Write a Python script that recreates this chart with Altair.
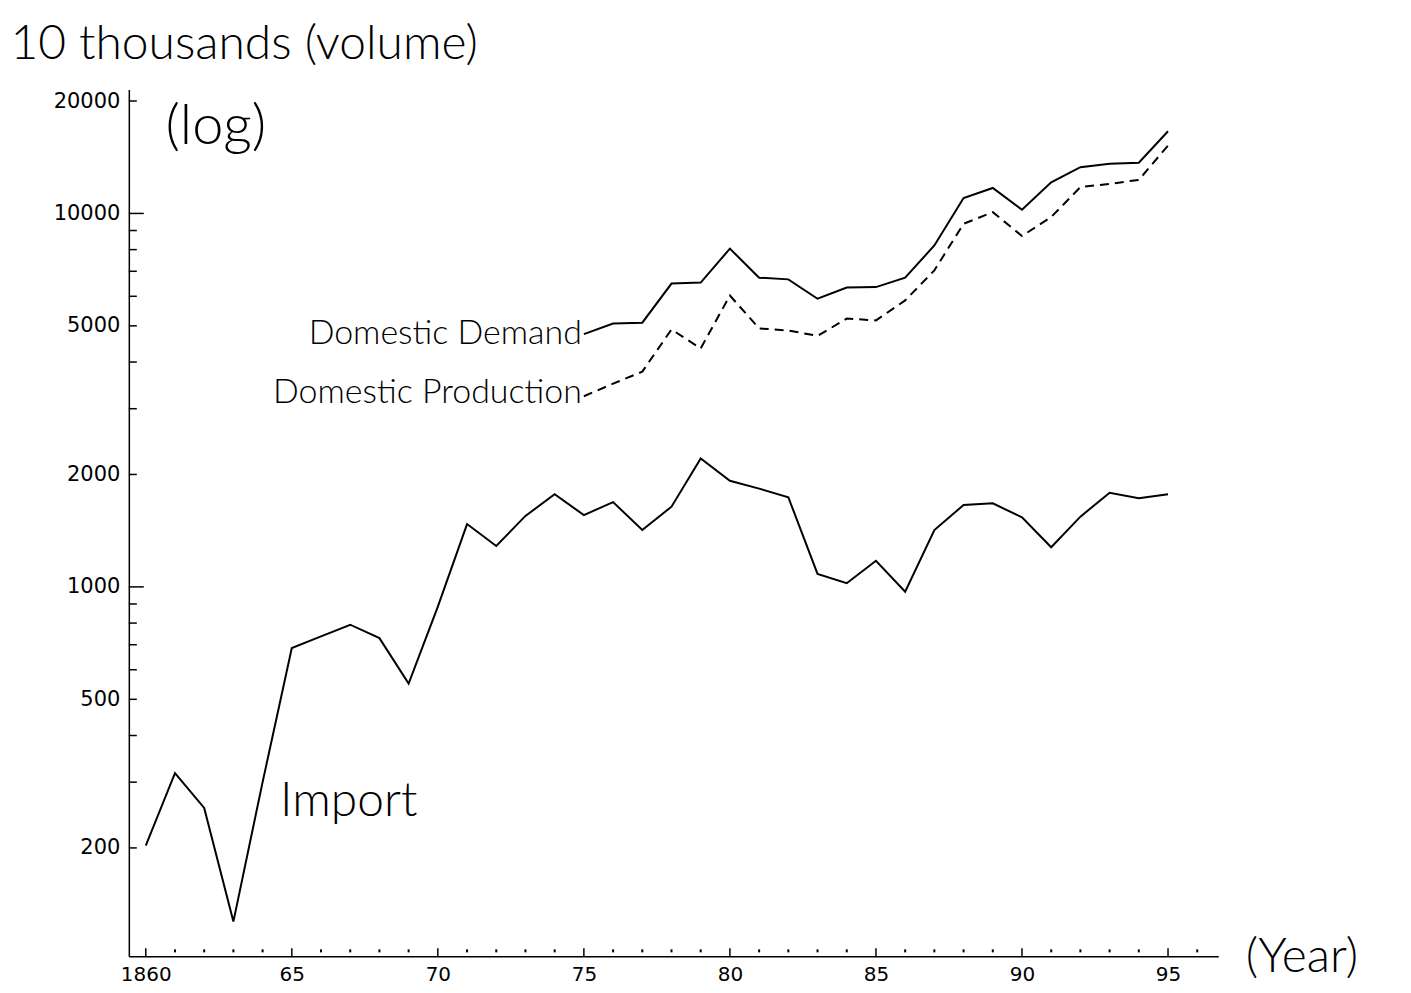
import altair as alt
import pandas as pd

# ---- data ----
import_years = list(range(1860, 1896))
import_vals = [203, 317, 256, 127, 300, 686, 737, 792, 729, 551,
               885, 1473, 1287, 1549, 1770, 1557, 1687, 1420, 1640, 2208,
               1924, 1833, 1738, 1083, 1023, 1175, 971, 1420, 1657, 1674,
               1535, 1277, 1542, 1787, 1727, 1770]

dom_years = list(range(1875, 1896))
demand_vals = [4750, 5070, 5100, 6490, 6530, 8050, 6730, 6660, 5910, 6330,
               6350, 6730, 8210, 11000, 11700, 10230, 12120, 13300, 13580, 13670,
               16600]
production_vals = [3240, 3500, 3770, 4890, 4350, 6030, 4920, 4860, 4700, 5230,
                   5170, 5850, 7040, 9380, 10080, 8700, 9780, 11760, 12000, 12300,
                   15200]

y_label_values = [200, 500, 1000, 2000, 5000, 10000, 20000]
y_minor_ticks = [200, 300, 400, 500, 600, 700, 800, 900, 2000, 3000, 4000,
                 5000, 6000, 7000, 8000, 9000, 20000]
y_major_ticks = [1000, 10000]
x_label_values = [1860, 1865, 1870, 1875, 1880, 1885, 1890, 1895]
x_tick_years = list(range(1860, 1897))

W, H = 1091, 868
FONT = "Lato"
LABEL_FONT = "DejaVu Sans"

xscale = alt.Scale(domain=[1859.42, 1896.72], nice=False, zero=False)
yscale = alt.Scale(type="log", domain=[102.5, 21460], nice=False)

imp = pd.DataFrame({"year": import_years, "value": import_vals})
dom = pd.DataFrame({"year": dom_years, "demand": demand_vals,
                    "production": production_vals})

x_axis = alt.Axis(values=x_label_values,
                  labelExpr="datum.value == 1860 ? '1860' : substring(toString(datum.value), 2, 4)",
                  ticks=False, grid=False, domainColor="black", domainWidth=1.5,
                  labelFont=LABEL_FONT, labelFontSize=20, labelColor="black",
                  labelPadding=8,
                  title="(Year)", titleFont=FONT, titleFontSize=48,
                  titleFontWeight=300, titleColor="black",
                  titleX=1118, titleY=1, titleAlign="left",
                  titleBaseline="middle", titleAngle=0)
y_axis = alt.Axis(values=y_label_values, format="d",
                  ticks=False, grid=False, domainColor="black", domainWidth=1.5,
                  labelFont=LABEL_FONT, labelFontSize=21, labelColor="black",
                  labelPadding=9,
                  title="10 thousands (volume)", titleFont=FONT,
                  titleFontSize=48, titleFontWeight=300, titleColor="black",
                  titleX=-119, titleY=-45, titleAlign="left",
                  titleBaseline="middle", titleAngle=0)

import_line = alt.Chart(imp).mark_line(color="black", strokeWidth=2).encode(
    x=alt.X("year:Q", scale=xscale, axis=x_axis),
    y=alt.Y("value:Q", scale=yscale, axis=y_axis),
)
demand_line = alt.Chart(dom).mark_line(color="black", strokeWidth=2).encode(
    x=alt.X("year:Q", scale=xscale),
    y=alt.Y("demand:Q", scale=yscale),
)
production_line = alt.Chart(dom).mark_line(
    color="black", strokeWidth=2, strokeDash=[9, 6]).encode(
    x=alt.X("year:Q", scale=xscale),
    y=alt.Y("production:Q", scale=yscale),
)

# ticks pointing inward
ymin = pd.DataFrame({"v": y_minor_ticks})
ymaj = pd.DataFrame({"v": y_major_ticks})
y_minor = alt.Chart(ymin).mark_rule(color="black", strokeWidth=1.5).encode(
    y=alt.Y("v:Q", scale=yscale), x=alt.value(0), x2=alt.value(8))
y_major = alt.Chart(ymaj).mark_rule(color="black", strokeWidth=1.5).encode(
    y=alt.Y("v:Q", scale=yscale), x=alt.value(0), x2=alt.value(15))

xt = pd.DataFrame({"year": x_tick_years})
xt["major"] = xt["year"] % 5 == 0
x_major = alt.Chart(xt).transform_filter("datum.major").mark_rule(
    color="black", strokeWidth=1.5).encode(
    x=alt.X("year:Q", scale=xscale), y=alt.value(H - 8), y2=alt.value(H))
x_minor = alt.Chart(xt).transform_filter("!datum.major").mark_rule(
    color="black", strokeWidth=2).encode(
    x=alt.X("year:Q", scale=xscale), y=alt.value(H - 7), y2=alt.value(H - 4))

# annotations (handwritten labels in the reference)
ann_right = pd.DataFrame({
    "label": ["Domestic Demand", "Domestic Production"],
    "year": [1875, 1875],
    "value": [4750, 3300],
})
ann_left = pd.DataFrame({"label": ["Import"], "year": [1864.6], "value": [265]})
ann_center = pd.DataFrame({"label": ["(log)"], "year": [1862.4], "value": [17000]})

t_right = alt.Chart(ann_right).mark_text(
    align="right", baseline="middle", font=FONT, fontSize=34, fontWeight=300,
    color="black", dx=-2).encode(
    x=alt.X("year:Q", scale=xscale), y=alt.Y("value:Q", scale=yscale),
    text="label:N")
t_left = alt.Chart(ann_left).mark_text(
    align="left", baseline="middle", font=FONT, fontSize=48, fontWeight=300,
    color="black").encode(
    x=alt.X("year:Q", scale=xscale), y=alt.Y("value:Q", scale=yscale),
    text="label:N")
t_center = alt.Chart(ann_center).mark_text(
    align="center", baseline="middle", font=FONT, fontSize=56, fontWeight=300,
    color="black").encode(
    x=alt.X("year:Q", scale=xscale), y=alt.Y("value:Q", scale=yscale),
    text="label:N")

chart = alt.layer(
    import_line, demand_line, production_line,
    y_minor, y_major, x_major, x_minor,
    t_right, t_left, t_center,
).properties(
    width=W, height=H,
    padding={"left": 121, "top": 81, "right": 185, "bottom": 30},
    autosize=alt.AutoSizeParams(type="none"),
    background="white",
).configure_view(stroke=None)

chart.save("out.html", embed_options={"renderer": "svg", "actions": False})
